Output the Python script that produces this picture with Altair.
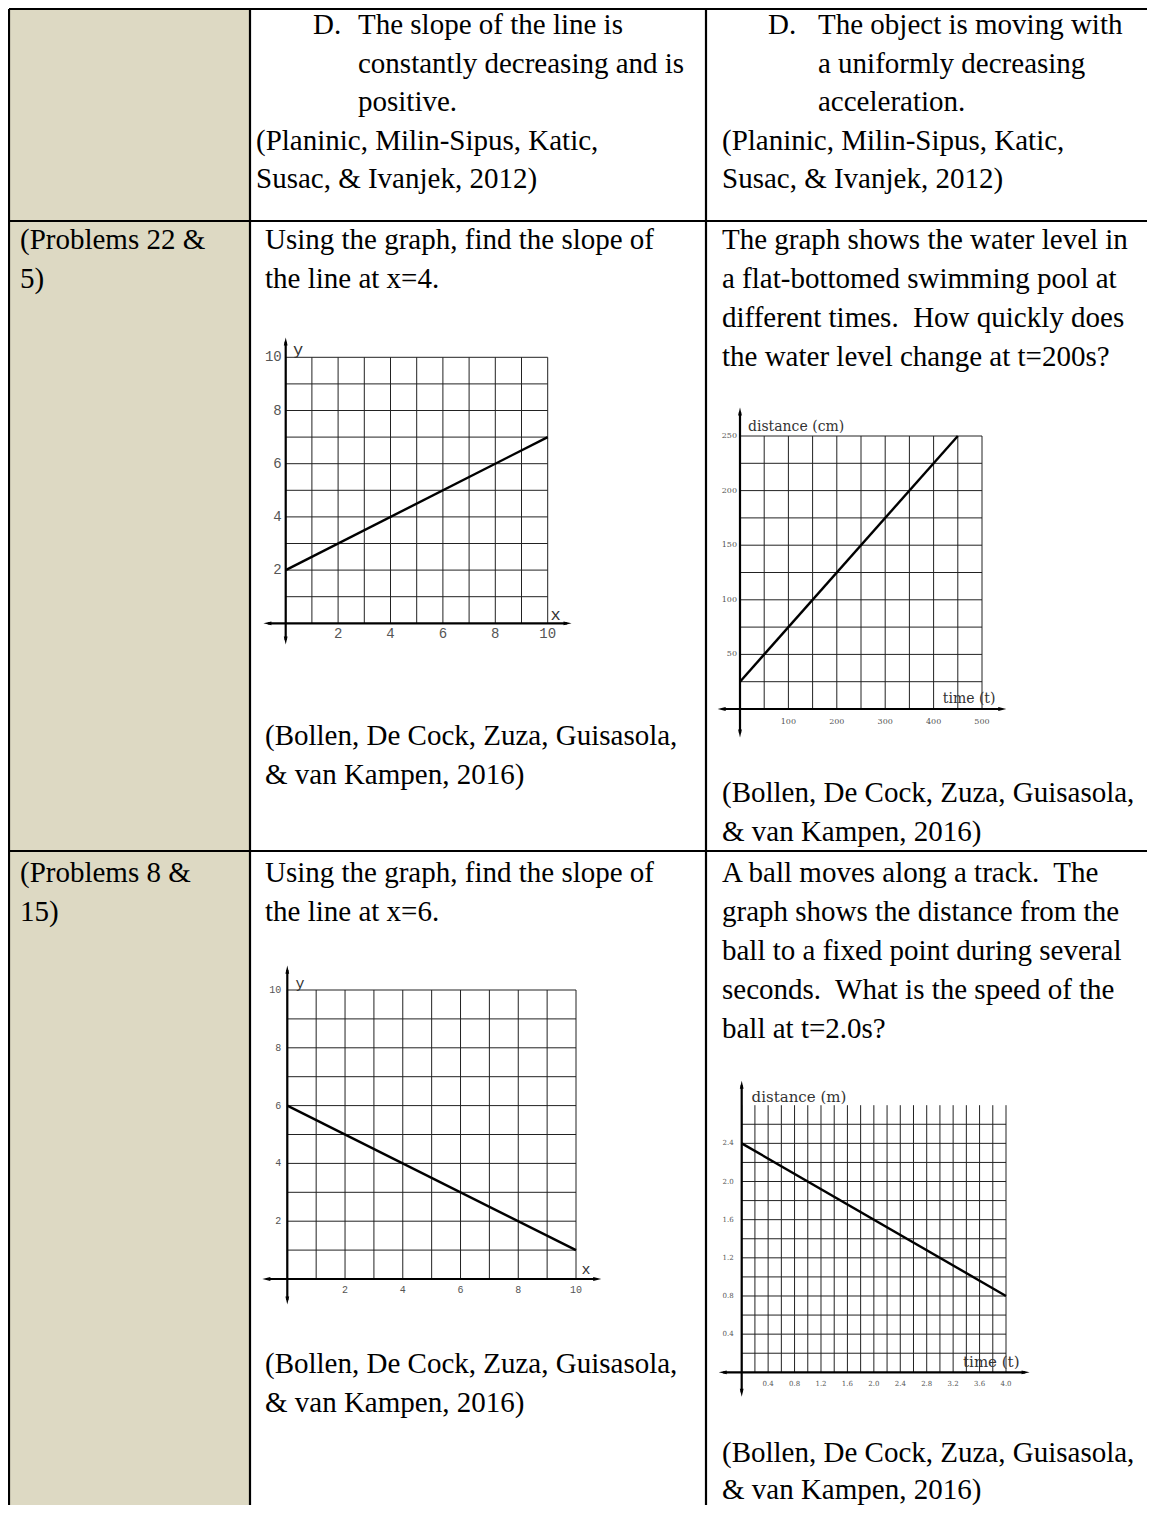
import altair as alt
import pandas as pd

# ---------------------------------------------------------------- data
CITE_PLANINIC = ["(Planinic, Milin-Sipus, Katic,", "Susac, & Ivanjek, 2012)"]
CITE_BOLLEN = ["(Bollen, De Cock, Zuza, Guisasola,", "& van Kampen, 2016)"]
ROW0_COL1_ITEM = ["The slope of the line is", "constantly decreasing and is", "positive."]
ROW0_COL2_ITEM = ["The object is moving with", "a uniformly decreasing", "acceleration."]
ROW1_COL0 = ["(Problems 22 &", "5)"]
ROW1_COL1_Q = ["Using the graph, find the slope of", "the line at x=4."]
ROW1_COL2_Q = ["The graph shows the water level in",
               "a flat-bottomed swimming pool at",
               "different times.\u00a0 How quickly does",
               "the water level change at t=200s?"]
ROW2_COL0 = ["(Problems 8 &", "15)"]
ROW2_COL1_Q = ["Using the graph, find the slope of", "the line at x=6."]
ROW2_COL2_Q = ["A ball moves along a track.\u00a0 The",
               "graph shows the distance from the",
               "ball to a fixed point during several",
               "seconds.\u00a0 What is the speed of the",
               "ball at t=2.0s?"]

# graph 1 : y = 2 .. 7 over x = 0 .. 10
G1_LINE_X = [0, 10]
G1_LINE_Y = [2, 7]
G1_TICKS = [2, 4, 6, 8, 10]
# graph 2 : distance (cm) vs time
G2_LINE_X = [0, 450]
G2_LINE_Y = [25, 250]
G2_YTICKS = [50, 100, 150, 200, 250]
G2_XTICKS = [100, 200, 300, 400, 500]
# graph 3 : y = 6 .. 1 over x = 0 .. 10
G3_LINE_X = [0, 10]
G3_LINE_Y = [6, 1]
G3_TICKS = [2, 4, 6, 8, 10]
# graph 4 : distance (m) vs time
G4_LINE_X = [0.0, 4.0]
G4_LINE_Y = [2.4, 0.8]
G4_YTICKS = ["0.4", "0.8", "1.2", "1.6", "2.0", "2.4"]
G4_XTICKS = ["0.4", "0.8", "1.2", "1.6", "2.0", "2.4", "2.8", "3.2", "3.6", "4.0"]

# ---------------------------------------------------------------- layout
OFF = 8                 # page margin
W, H = 1155, 1513
FILL = "#DDD9C3"
SERIF = "Liberation Serif"
FS = 29
LH = 38.9

PAGE_X = alt.Scale(domain=[0, W], range=[-OFF, W - OFF], nice=False, zero=False)
PAGE_Y = alt.Scale(domain=[0, H], range=[-OFF, H - OFF], nice=False, zero=False)


def px(f):
    return alt.X(f, type="quantitative", scale=PAGE_X, axis=None)


def py(f):
    return alt.Y(f, type="quantitative", scale=PAGE_Y, axis=None)


layers = []

# left column fill
fill_df = pd.DataFrame({"x": [9], "x2": [250], "y": [9], "y2": [H]})
layers.append(alt.Chart(fill_df).mark_rect(color=FILL).encode(
    x=px("x"), x2="x2:Q", y=py("y"), y2="y2:Q"))

# table borders
bx = [9, 9, 250, 706, 9, 9]
by = [9, 9, 9, 9, 221, 851]
bx2 = [W, 9, 250, 706, W, W]
by2 = [9, H, H, H, 221, 851]
border_df = pd.DataFrame({"x": bx, "y": by, "x2": bx2, "y2": by2})
layers.append(alt.Chart(border_df).mark_rule(color="black", strokeWidth=2.2).encode(
    x=px("x"), x2="x2:Q", y=py("y"), y2="y2:Q"))

# table text blocks: (left x, first baseline, line spacing, lines)
blocks = [
    (313, 34.0, 38.6, ["D."]),
    (358, 34.0, 38.6, ROW0_COL1_ITEM),
    (256, 149.8, 38.6, CITE_PLANINIC),
    (768, 34.0, 38.6, ["D."]),
    (818, 34.0, 38.6, ROW0_COL2_ITEM),
    (722, 149.8, 38.6, CITE_PLANINIC),
    (20, 249, LH, ROW1_COL0),
    (265, 249, LH, ROW1_COL1_Q),
    (265, 745, LH, CITE_BOLLEN),
    (722, 249, LH, ROW1_COL2_Q),
    (722, 802, LH, CITE_BOLLEN),
    (20, 882, LH, ROW2_COL0),
    (265, 882, LH, ROW2_COL1_Q),
    (265, 1373, LH, CITE_BOLLEN),
    (722, 882, LH, ROW2_COL2_Q),
    (722, 1462, 37.0, CITE_BOLLEN),
]
rows = []
for x0, b0, lh, lines in blocks:
    for i, t in enumerate(lines):
        rows.append({"x": x0, "y": b0 + i * lh, "t": t})
text_df = pd.DataFrame(rows)
layers.append(alt.Chart(text_df).mark_text(
    align="left", baseline="alphabetic", font=SERIF, fontSize=FS, color="black"
).encode(x=px("x"), y=py("y"), text="t:N"))


# ---------------------------------------------------------------- graphs
def graph(g):
    xs = alt.Scale(domain=g["xdom"], range=[g["px"][0] - OFF, g["px"][1] - OFF], nice=False, zero=False)
    ys = alt.Scale(domain=g["ydom"], range=[g["py"][0] - OFF, g["py"][1] - OFF], nice=False, zero=False)

    def gx(f):
        return alt.X(f, type="quantitative", scale=xs, axis=None)

    def gy(f):
        return alt.Y(f, type="quantitative", scale=ys, axis=None)

    out = []
    xmin, xmax = g["xdom"]
    r = []
    for v in g["vgrid"]:
        r.append({"x": v, "x2": v, "y": 0, "y2": g["vtop"], "w": 1.0, "c": "#222"})
    for v in g["hgrid"]:
        r.append({"x": 0, "x2": xmax, "y": v, "y2": v, "w": 1.0, "c": "#222"})
    ax = g["axis"]
    r.append({"x": ax[0], "x2": ax[1], "y": 0, "y2": 0, "w": 2.2, "c": "black"})
    r.append({"x": 0, "x2": 0, "y": ax[2], "y2": ax[3], "w": 2.2, "c": "black"})
    out.append(alt.Chart(pd.DataFrame(r)).mark_rule(strokeCap="butt").encode(
        x=gx("x"), x2="x2:Q", y=gy("y"), y2="y2:Q",
        strokeWidth=alt.StrokeWidth("w:Q", scale=None),
        color=alt.Color("c:N", scale=None)))

    arrows = pd.DataFrame({
        "x": [ax[0], ax[1], 0, 0],
        "y": [0, 0, ax[2], ax[3]],
        "a": [270, 90, 180, 0],
    })
    out.append(alt.Chart(arrows).mark_point(
        shape="M0,-1L0.42,0.8L-0.42,0.8Z", filled=True, color="black", size=80, opacity=1
    ).encode(x=gx("x"), y=gy("y"), angle=alt.Angle("a:Q", scale=None)))

    line_df = pd.DataFrame({"x": g["line_x"], "y": g["line_y"]})
    out.append(alt.Chart(line_df).mark_line(color="black", strokeWidth=2.4).encode(
        x=gx("x"), y=gy("y")))

    yt = pd.DataFrame({"v": g["yvals"], "t": g["ylabels"], "z": 0})
    out.append(alt.Chart(yt).mark_text(
        align="right", baseline="middle", dx=g["ydx"], font=g["tfont"],
        fontSize=g["tsize"], color="#555"
    ).encode(x=gx("z"), y=gy("v"), text="t:N"))

    xt = pd.DataFrame({"v": g["xvals"], "t": g["xlabels"], "z": 0})
    out.append(alt.Chart(xt).mark_text(
        align="center", baseline="middle", dy=g["xdy"], font=g["tfont"],
        fontSize=g["tsize"], color="#555"
    ).encode(x=gx("v"), y=gy("z"), text="t:N"))

    tt = pd.DataFrame(g["titles"])
    out.append(alt.Chart(tt).mark_text(
        baseline="middle", align=g["title_align"], font=g["title_font"],
        fontSize=g["title_size"], color="#333"
    ).encode(x=gx("x"), y=gy("y"), text="t:N"))
    return out


G1 = dict(
    xdom=[0, 10], ydom=[0, 10], px=[285.7, 547.7], py=[623.3, 357.3],
    vgrid=list(range(0, 11)), vtop=10, hgrid=list(range(1, 11)),
    axis=[-0.68, 10.74, -0.63, 10.58],
    line_x=G1_LINE_X, line_y=G1_LINE_Y,
    yvals=G1_TICKS, ylabels=[str(v) for v in G1_TICKS], ydx=-4,
    xvals=G1_TICKS, xlabels=[str(v) for v in G1_TICKS], xdy=11,
    tfont="Liberation Mono", tsize=14,
    titles={"x": [0.47, 10.3], "y": [10.27, 0.33], "t": ["y", "x"]},
    title_font="Liberation Mono", title_size=17, title_align="center",
)
G2 = dict(
    xdom=[0, 500], ydom=[0, 250], px=[740, 982], py=[709, 436],
    vgrid=list(range(0, 501, 50)), vtop=250, hgrid=list(range(25, 251, 25)),
    axis=[-37, 541, -22, 272],
    line_x=G2_LINE_X, line_y=G2_LINE_Y,
    yvals=G2_YTICKS, ylabels=[str(v) for v in G2_YTICKS], ydx=-3,
    xvals=G2_XTICKS, xlabels=[str(v) for v in G2_XTICKS], xdy=13,
    tfont="DejaVu Serif", tsize=8,
    titles={"x": [16.5, 419], "y": [258, 9], "t": ["distance (cm)", "time (t)"]},
    title_font="DejaVu Serif", title_size=14, title_align="left",
)
G3 = dict(
    xdom=[0, 10], ydom=[0, 10], px=[287.3, 576], py=[1279, 990],
    vgrid=list(range(0, 11)), vtop=10, hgrid=list(range(1, 11)),
    axis=[-0.71, 10.72, -0.73, 10.69],
    line_x=G3_LINE_X, line_y=G3_LINE_Y,
    yvals=G3_TICKS, ylabels=[str(v) for v in G3_TICKS], ydx=-6,
    xvals=G3_TICKS, xlabels=[str(v) for v in G3_TICKS], xdy=11,
    tfont="Liberation Mono", tsize=10,
    titles={"x": [0.44, 10.35], "y": [10.24, 0.35], "t": ["y", "x"]},
    title_font="Liberation Mono", title_size=15, title_align="center",
)
G4 = dict(
    xdom=[0, 4], ydom=[0, 2.8], px=[741.7, 1006], py=[1372.3, 1105.2],
    vgrid=[i * 0.2 for i in range(0, 21)], vtop=2.8, hgrid=[i * 0.2 for i in range(1, 14)],
    axis=[-0.28, 4.29, -0.21, 3.01],
    line_x=G4_LINE_X, line_y=G4_LINE_Y,
    yvals=[float(v) for v in G4_YTICKS], ylabels=G4_YTICKS, ydx=-8,
    xvals=[float(v) for v in G4_XTICKS], xlabels=G4_XTICKS, xdy=12,
    tfont="DejaVu Serif", tsize=7,
    titles={"x": [0.15, 3.35], "y": [2.886, 0.108], "t": ["distance (m)", "time (t)"]},
    title_font="DejaVu Serif", title_size=15, title_align="left",
)

for g in (G1, G2, G3, G4):
    layers.extend(graph(g))

# chart fits the window exactly (8px body margin on every side)
chart = alt.layer(*layers).resolve_scale(
    x="independent", y="independent"
).properties(
    width=W - 2 * OFF, height=H - 2 * OFF, padding=0,
    autosize=alt.AutoSizeParams(type="none"), background="white"
).configure_view(stroke=None)

chart.save("out.html", embed_options={"renderer": "svg", "actions": False})
